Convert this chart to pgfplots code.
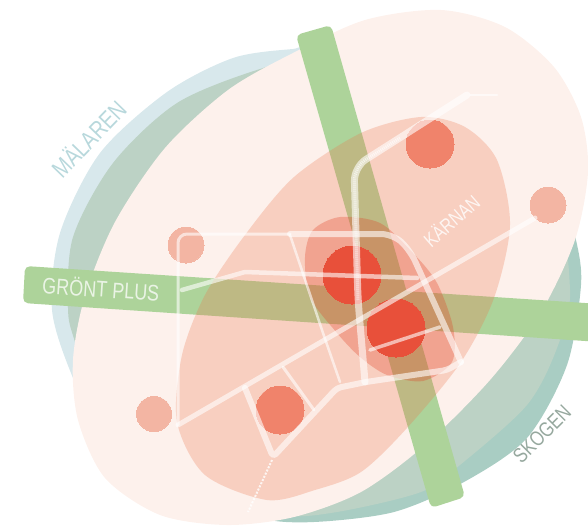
\documentclass[border=0pt]{standalone}
\usepackage{fontspec}
\setmainfont[FakeStretch=0.8]{Liberation Sans}
\usepackage{pgfplots}
\pgfplotsset{compat=1.18}
\definecolor{lake}{HTML}{D8E8EC}
\definecolor{forest}{HTML}{BCD2C5}
\definecolor{forestdark}{HTML}{A9CDC3}
\definecolor{palepink}{HTML}{FDF1EC}
\definecolor{band}{HTML}{ADD39A}
\definecolor{inner}{HTML}{EC744C}
\definecolor{core}{HTML}{E23F24}
\definecolor{hot}{HTML}{E8503A}
\definecolor{mid}{HTML}{F0836B}
\definecolor{soft}{HTML}{F3B5A3}
\begin{document}
\begin{tikzpicture}
\path[use as bounding box] (0,0) rectangle (588pt,530pt);
\begin{axis}[
	scale only axis,
	width=588pt,
	height=530pt,
	xmin=0,xmax=588,
	ymin=0,ymax=530,
	y dir=reverse,
	hide axis,
	clip mode=individual,
	road/.style={draw=white,draw opacity=0.6,line width=#1,line join=round,line cap=round},
	spot/.style n args={2}{only marks,mark=*,mark size=#1,mark options={draw=#2,fill=#2,line width=0pt}},
]
% water and forest behind everything
\addplot[fill=lake,draw=none,smooth cycle] coordinates {
	(340,48)(293,49)(233,58)(167,92)(100,153)(60,233)(52,310)(73,378)(105,440)(200,400)(350,250)
};
\addplot[fill=forestdark,draw=none,smooth cycle] coordinates {
	(560,190)(576,240)(581,285)(567,365)(527,438)(464,482)(394,512)(314,522)(260,518)(200,490)(250,350)(450,200)
};
\addplot[fill=forest,draw=none,smooth cycle] coordinates {
	(330,55)(260,69)(177,103)(113,163)(73,237)(68,308)(75,342)(105,430)(200,490)(280,515)(337,512)(421,492)(460,465)(527,405)(557,348)(570,290)(550,190)(450,80)
};
% large pale ellipse
\addplot[fill=palepink,draw=none,smooth cycle] coordinates {
	(441,10)(505,27)(554,67)(581,117)(588,172)(575,240)(541,312)(490,380)(425,445)(361,492)(294,517)(227,525)(160,515)(105,478)(78,420)(73,360)(85,296)(115,222)(165,148)(228,90)(293,53)(365,20)
};
% green corridors
\addplot[fill=band,draw=none,rounded corners=5pt] coordinates {
	(296,35)(331,25)(465,497)(431,508)
} -- cycle;
\addplot[fill=band,draw=none,rounded corners=5pt] coordinates {
	(25,266)(600,304)(600,342)(23,303)
} -- cycle;
% inner ellipses
\addplot[fill=inner,fill opacity=0.27,draw=none,smooth cycle] coordinates {
	(421,117)(361,133)(294,177)(245,235)(205,295)(182,355)(177,422)(205,475)(267,500)(315,490)(361,472)(407,428)(461,362)(494,298)(510,225)(497,160)(465,127)
};
\addplot[fill=core,fill opacity=0.3,draw=none,smooth cycle] coordinates {
	(340,217)(313,230)(305,257)(310,297)(337,333)(360,357)(387,375)(423,381)(452,362)(453,327)(437,283)(413,253)(380,223)
};
% centres
\addplot[spot={29}{hot}] coordinates {(352,275)(396,328)};
\addplot[spot={24}{mid}] coordinates {(430,144)(280,410)};
\addplot[spot={18}{soft}] coordinates {(186,245)(548,205)};
\addplot[spot={17.5}{soft}] coordinates {(154,414)};
% streets
\addplot[road=3pt,rounded corners=9pt] coordinates {(178,425)(178,234)(290,234)};
\addplot[road=6pt,rounded corners=12pt] coordinates {(290,234)(393,234)(410,250)(461,362)};
\addplot[road=6pt,rounded corners=4pt] coordinates {(461,362)(447,370)(366,382)(337,388)(273,457)(245,388)};
\addplot[road=5pt] coordinates {(178,425)(535,218)};
\addplot[road=4.5pt] coordinates {(182,290)(245,272)(417,278)};
\addplot[road=2.5pt] coordinates {(290,235)(323,333)(340,382)};
\addplot[road=3pt] coordinates {(283,367)(314,410)};
\addplot[road=3.5pt] coordinates {(370,350)(440,327)};
\addplot[road=7pt,rounded corners=14pt] coordinates {(467,95)(354,167)(358,300)(365,382)};
\addplot[draw=white,draw opacity=0.6,line width=3pt,dash pattern=on 1pt off 1pt,rounded corners=14pt] coordinates {(400,138)(354,167)(358,300)};
\addplot[road=2pt] coordinates {(470,95)(497,95)};
\addplot[draw=white,draw opacity=0.8,line width=2pt,dash pattern=on 2pt off 1.5pt] coordinates {(272,460)(248,512)};
% labels
\node[rotate=-4,text=white,text opacity=0.75,font=\fontsize{22.5}{26}\selectfont] at (axis cs:101,288) {GRÖNT PLUS};
\node[rotate=46,text=lake!85!teal,font=\fontsize{24.5}{28}\selectfont] at (axis cs:88,138) {MÄLAREN};
\node[rotate=41,text=white,text opacity=0.8,font=\fontsize{20}{23}\selectfont] at (axis cs:451,220) {KÄRNAN};
\node[rotate=45,text=black!20!forest,font=\fontsize{21}{24}\selectfont] at (axis cs:542,434) {SKOGEN};
\end{axis}
\end{tikzpicture}
\end{document}
